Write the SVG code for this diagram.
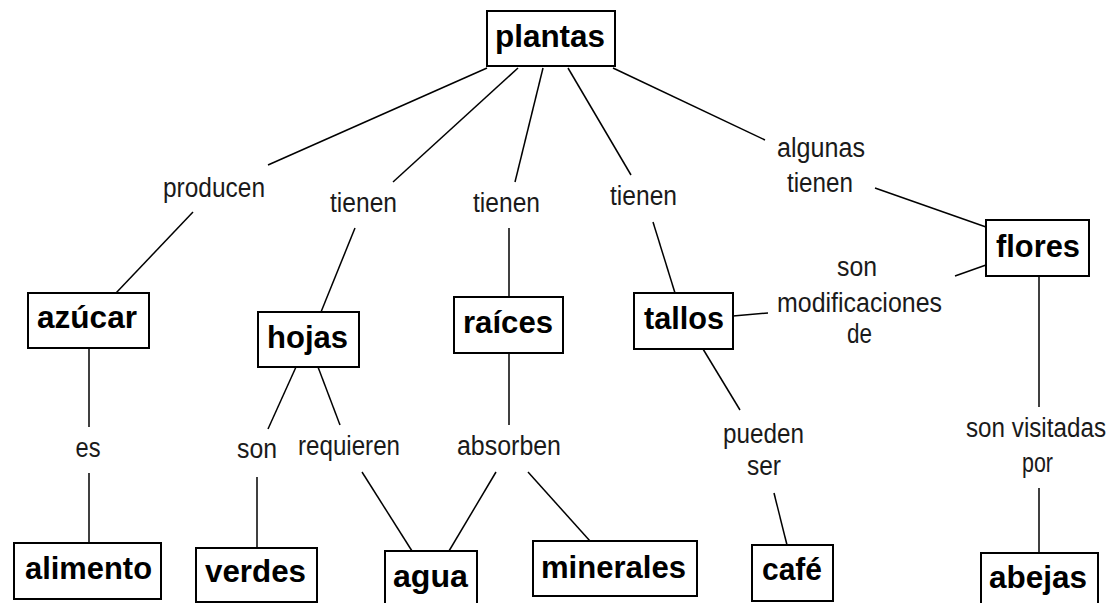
<svg xmlns="http://www.w3.org/2000/svg" width="1115" height="603" viewBox="0 0 1115 603">
<style>
.box{fill:#fff;stroke:#000;stroke-width:2}
.nt{font-family:"Liberation Sans",Arial,sans-serif;font-weight:bold;font-size:31px;text-anchor:middle;fill:#000}
.lb{font-family:"Liberation Sans",Arial,sans-serif;font-size:27px;text-anchor:middle;fill:#1a1a1a}
.cn line{stroke:#000;stroke-width:1.5}
</style>
<rect width="1115" height="603" fill="#fff"/>
<g id="connectors" class="cn">
<line x1="487" y1="68" x2="268" y2="165"/>
<line x1="193" y1="212" x2="116" y2="293"/>
<line x1="518" y1="68" x2="393" y2="182"/>
<line x1="355" y1="228" x2="321" y2="312"/>
<line x1="543" y1="68" x2="515" y2="182"/>
<line x1="509" y1="228" x2="509" y2="297"/>
<line x1="568" y1="68" x2="631" y2="175"/>
<line x1="653" y1="222" x2="675" y2="293"/>
<line x1="613" y1="68" x2="765" y2="140"/>
<line x1="875" y1="188" x2="986" y2="227"/>
<line x1="986" y1="265" x2="955" y2="276"/>
<line x1="733" y1="316" x2="768" y2="313"/>
<line x1="89" y1="348" x2="89" y2="427"/>
<line x1="89" y1="473" x2="89" y2="543"/>
<line x1="296" y1="367" x2="268" y2="429"/>
<line x1="257" y1="477" x2="257" y2="548"/>
<line x1="318" y1="367" x2="340" y2="425"/>
<line x1="362" y1="472" x2="412" y2="551"/>
<line x1="509" y1="353" x2="509" y2="425"/>
<line x1="496" y1="472" x2="449" y2="551"/>
<line x1="528" y1="472" x2="590" y2="541"/>
<line x1="703" y1="349" x2="740" y2="410"/>
<line x1="774" y1="493" x2="787" y2="545"/>
<line x1="1039" y1="276" x2="1039" y2="407"/>
<line x1="1039" y1="488" x2="1039" y2="553"/>
</g>
<g id="labels">
<text class="lb" x="214" y="197" textLength="102" lengthAdjust="spacingAndGlyphs">producen</text>
<text class="lb" x="363.5" y="212" textLength="67" lengthAdjust="spacingAndGlyphs">tienen</text>
<text class="lb" x="506.5" y="212" textLength="67" lengthAdjust="spacingAndGlyphs">tienen</text>
<text class="lb" x="643.5" y="205" textLength="67" lengthAdjust="spacingAndGlyphs">tienen</text>
<text class="lb" x="821" y="157" textLength="88" lengthAdjust="spacingAndGlyphs">algunas</text>
<text class="lb" x="820" y="192" textLength="66" lengthAdjust="spacingAndGlyphs">tienen</text>
<text class="lb" x="857" y="276" textLength="40" lengthAdjust="spacingAndGlyphs">son</text>
<text class="lb" x="859.5" y="312" textLength="165" lengthAdjust="spacingAndGlyphs">modificaciones</text>
<text class="lb" x="859.5" y="343" textLength="25" lengthAdjust="spacingAndGlyphs">de</text>
<text class="lb" x="88" y="457" textLength="25" lengthAdjust="spacingAndGlyphs">es</text>
<text class="lb" x="257" y="458" textLength="40" lengthAdjust="spacingAndGlyphs">son</text>
<text class="lb" x="349" y="455" textLength="102" lengthAdjust="spacingAndGlyphs">requieren</text>
<text class="lb" x="509" y="455" textLength="104" lengthAdjust="spacingAndGlyphs">absorben</text>
<text class="lb" x="763.5" y="443" textLength="81" lengthAdjust="spacingAndGlyphs">pueden</text>
<text class="lb" x="764" y="475" textLength="34" lengthAdjust="spacingAndGlyphs">ser</text>
<text class="lb" x="1036" y="437" font-size="25" textLength="140" lengthAdjust="spacingAndGlyphs">son visitadas</text>
<text class="lb" x="1037.5" y="472" textLength="31" lengthAdjust="spacingAndGlyphs">por</text>
</g>
<g id="plantas"><rect class="box" x="487" y="11" width="128" height="55"/><text class="nt" x="550" y="47" textLength="110" lengthAdjust="spacingAndGlyphs">plantas</text></g>
<g id="flores"><rect class="box" x="986" y="220" width="103" height="56"/><text class="nt" x="1038" y="257" textLength="84" lengthAdjust="spacingAndGlyphs">flores</text></g>
<g id="azucar"><rect class="box" x="28" y="293" width="121" height="55"/><text class="nt" x="87" y="328" textLength="100" lengthAdjust="spacingAndGlyphs">azúcar</text></g>
<g id="hojas"><rect class="box" x="258" y="312" width="101" height="55"/><text class="nt" x="307.5" y="348" textLength="81" lengthAdjust="spacingAndGlyphs">hojas</text></g>
<g id="raices"><rect class="box" x="454" y="297" width="109" height="56"/><text class="nt" x="508" y="333" textLength="90" lengthAdjust="spacingAndGlyphs">raíces</text></g>
<g id="tallos"><rect class="box" x="634" y="293" width="99" height="56"/><text class="nt" x="684" y="329" textLength="80" lengthAdjust="spacingAndGlyphs">tallos</text></g>
<g id="alimento"><rect class="box" x="14" y="543" width="147" height="56"/><text class="nt" x="88.5" y="579" textLength="127" lengthAdjust="spacingAndGlyphs">alimento</text></g>
<g id="verdes"><rect class="box" x="196" y="548" width="121" height="54"/><text class="nt" x="255.5" y="582" textLength="101" lengthAdjust="spacingAndGlyphs">verdes</text></g>
<g id="agua"><rect class="box" x="385" y="551" width="92" height="60"/><text class="nt" x="430.5" y="587" textLength="75" lengthAdjust="spacingAndGlyphs">agua</text></g>
<g id="minerales"><rect class="box" x="533" y="541" width="164" height="55"/><text class="nt" x="613.5" y="578" textLength="145" lengthAdjust="spacingAndGlyphs">minerales</text></g>
<g id="cafe"><rect class="box" x="752" y="545" width="81" height="56"/><text class="nt" x="792" y="580" textLength="60" lengthAdjust="spacingAndGlyphs">café</text></g>
<g id="abejas"><rect class="box" x="981" y="553" width="117" height="60"/><text class="nt" x="1038" y="588" textLength="98" lengthAdjust="spacingAndGlyphs">abejas</text></g>
</svg>
